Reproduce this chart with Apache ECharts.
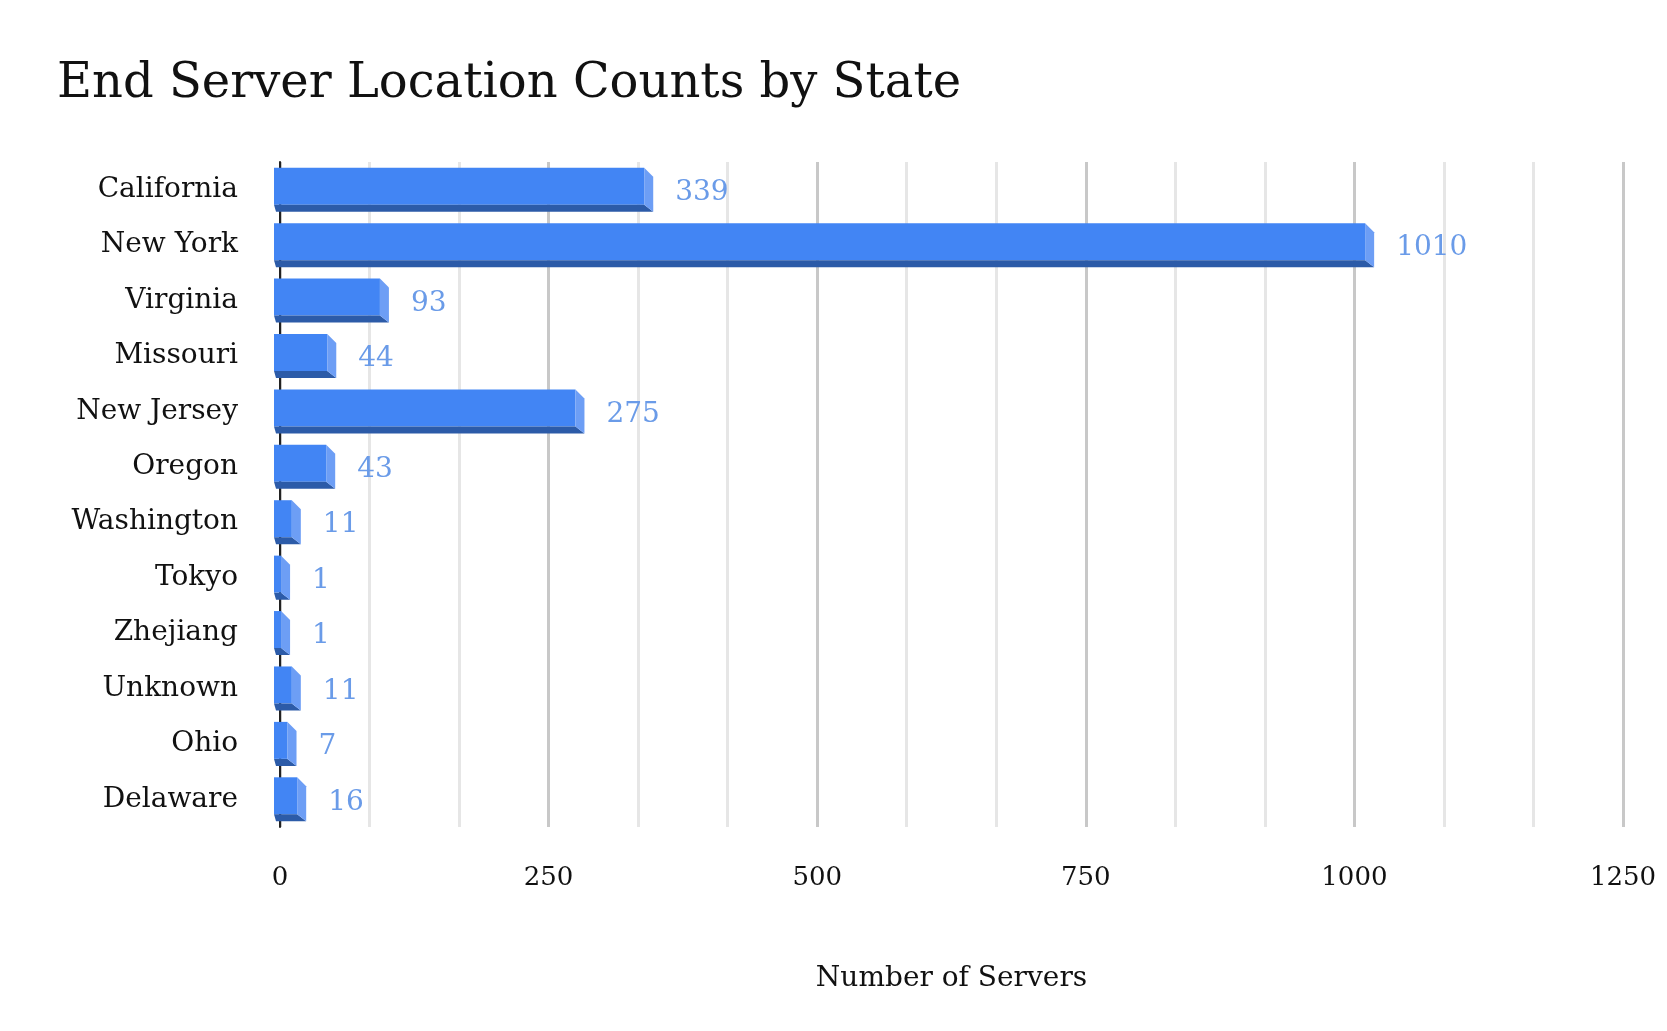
<!DOCTYPE html>
<html><head><meta charset="utf-8">
<script src="https://cdn.jsdelivr.net/npm/echarts@6/dist/echarts.min.js"></script>
<style>html,body{margin:0;padding:0;background:#fff}#c{width:1667px;height:1031px}</style>
</head><body><div id="c"></div>
<script>
const categories = ["California","New York","Virginia","Missouri","New Jersey","Oregon","Washington","Tokyo","Zhejiang","Unknown","Ohio","Delaware"];
const values = [339,1010,93,44,275,43,11,1,1,11,7,16];
const tickLabels = ["0","250","500","750","1000","1250"];
const F = "DejaVu Serif";
const chart = echarts.init(document.getElementById('c'));
chart.setOption({
  backgroundColor:'#fff',
  title:{text:'End Server Location Counts by State',left:52,top:56,textStyle:{fontFamily:F,fontSize:48,fontWeight:'normal',color:'#111'}},
  grid:{left:280,right:44,top:162,bottom:204},
  xAxis:{type:'value',min:0,max:1250,interval:250,
    name:'Number of Servers',nameLocation:'middle',nameGap:138,
    nameTextStyle:{fontFamily:F,fontSize:28,color:'#111'},
    axisLabel:{fontFamily:F,fontSize:26,color:'#111',margin:38,formatter:v=>tickLabels[v/250]},
    axisLine:{show:false},axisTick:{show:false},
    splitLine:{lineStyle:{color:'#c8c8c8',width:3}},
    minorTick:{show:false,splitNumber:3},
    minorSplitLine:{show:true,lineStyle:{color:'#e6e6e6',width:3}}},
  yAxis:{type:'category',data:categories,inverse:true,
    axisLine:{show:true,lineStyle:{color:'#222',width:2}},axisTick:{show:false},
    axisLabel:{fontFamily:F,fontSize:28,color:'#111',margin:42}},
  series:[{type:'custom',data:values.map((v,i)=>[v,i]),
    renderItem:(p,api)=>{
      const v=api.value(0), i=api.value(1);
      const s=api.coord([0,i]), e=api.coord([v,i]);
      const x0=s[0]-6, x1=Math.max(e[0],x0+2), cy=s[1];
      const top=cy-22, mid=cy+15, bot=cy+22, d=9;
      return {type:'group',children:[
        {type:'rect',shape:{x:x0,y:top,width:x1-x0,height:mid-top},style:{fill:'#4285f4'}},
        {type:'polygon',shape:{points:[[x0,mid],[x1,mid],[x1+d,bot],[x0+2,bot]]},style:{fill:'#2c5ba8'}},
        {type:'polygon',shape:{points:[[x1,top],[x1+d,top+9],[x1+d,bot],[x1,mid]]},style:{fill:'#6d9ef5'}},
        {type:'text',x:x1+d+22,y:cy+3,style:{text:String(v),fontFamily:F,fontSize:28,fill:'#6a9be8',verticalAlign:'middle'}}
      ]};
    }}]
});
</script></body></html>
